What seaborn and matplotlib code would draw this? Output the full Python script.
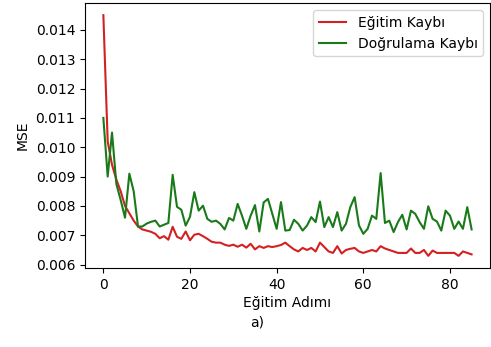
import numpy as np
import pandas as pd
import matplotlib
matplotlib.use("Agg")
import matplotlib.pyplot as plt
import seaborn as sns

steps = list(range(86))
train_loss = [0.0145, 0.0102, 0.0094, 0.0089, 0.0085, 0.0080, 0.00775, 0.0075, 0.0073, 0.0072,
              0.00716, 0.00712, 0.00705, 0.0069, 0.00697, 0.00685, 0.00729, 0.00695, 0.00688, 0.00713,
              0.00683, 0.00702, 0.00705, 0.00697, 0.00688, 0.00678, 0.00675, 0.00675, 0.00668, 0.00664,
              0.00668, 0.00661, 0.00668, 0.00658, 0.00671, 0.00652, 0.00663, 0.00657, 0.00663, 0.0066,
              0.00663, 0.00667, 0.00675, 0.00663, 0.00652, 0.00645, 0.00657, 0.0065, 0.00657, 0.00645,
              0.00675, 0.0066, 0.00645, 0.0064, 0.00663, 0.00638, 0.0065, 0.00654, 0.00657, 0.00645,
              0.0064, 0.00645, 0.0065, 0.00645, 0.00663, 0.00655, 0.0065, 0.00645, 0.0064, 0.0064,
              0.0064, 0.00655, 0.0064, 0.0064, 0.0065, 0.0063, 0.00648, 0.0064, 0.0064, 0.0064,
              0.0064, 0.0064, 0.0063, 0.00645, 0.0064, 0.00635]
val_loss = [0.0110, 0.0090, 0.0105, 0.00875, 0.0082, 0.0076, 0.0091, 0.0085, 0.0073, 0.0073,
            0.0074, 0.00746, 0.0075, 0.0073, 0.00736, 0.00742, 0.00906, 0.00797, 0.00787, 0.00733,
            0.00763, 0.00847, 0.00784, 0.00801, 0.00756, 0.00746, 0.0075, 0.00739, 0.0072, 0.00759,
            0.0075, 0.00807, 0.00767, 0.00722, 0.00767, 0.00803, 0.00713, 0.00812, 0.00824, 0.00773,
            0.00722, 0.00813, 0.00716, 0.00718, 0.00753, 0.00739, 0.00716, 0.00733, 0.00762, 0.00745,
            0.00815, 0.00728, 0.00762, 0.00728, 0.00779, 0.00716, 0.00739, 0.00796, 0.0083, 0.00734,
            0.00705, 0.00722, 0.00767, 0.00756, 0.00912, 0.00742, 0.0075, 0.00711, 0.00745, 0.0077,
            0.0072, 0.00784, 0.00773, 0.00745, 0.00722, 0.00799, 0.00756, 0.00747, 0.00716, 0.00784,
            0.00767, 0.00722, 0.00747, 0.00722, 0.00796, 0.0072]
series_names = ["Eğitim Kaybı", "Doğrulama Kaybı"]
colors = ["#d42020", "#1a7a1a"]
x_ticks = [0, 20, 40, 60, 80]
y_ticks = [0.006, 0.007, 0.008, 0.009, 0.010, 0.011, 0.012, 0.013, 0.014]

df = pd.concat([
    pd.DataFrame({"step": steps, "mse": train_loss, "series": series_names[0]}),
    pd.DataFrame({"step": steps, "mse": val_loss, "series": series_names[1]}),
])

plt.rcParams["font.family"] = ["DejaVu Sans"]
fig = plt.figure(figsize=(4.91, 3.47), dpi=100)
ax = fig.add_axes([0.173, 0.228, 0.825, 0.763])
sns.lineplot(data=df, x="step", y="mse", hue="series", palette=colors,
             hue_order=series_names, ax=ax, linewidth=1.5)
ax.set_xlabel("Eğitim Adımı", fontsize=10, labelpad=3)
ax.set_ylabel("MSE", fontsize=10)
ax.tick_params(labelsize=10)
ax.set_xticks(x_ticks)
ax.set_yticks(y_ticks)
ax.set_yticklabels([f"{v:.3f}" for v in y_ticks])
ax.legend(title=None, loc="upper right", fontsize=10)
fig.text(0.523, 0.072, "a)", ha="center", va="center", fontsize=10)
fig.savefig("out.png", dpi=100)
